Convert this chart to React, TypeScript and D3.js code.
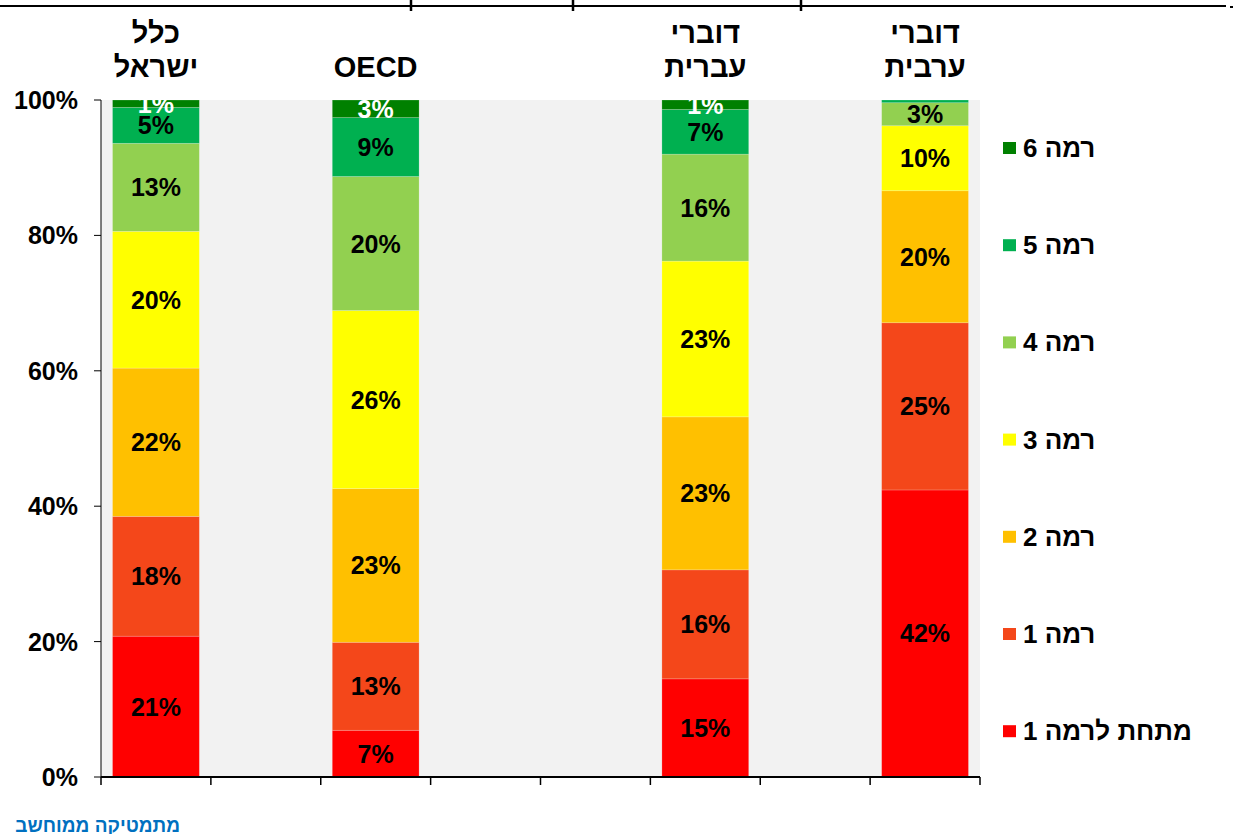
import React from "react";
import * as d3 from "d3";

// ---- data ----
const categories = ["israel", "gap1", "oecd", "gap2", "gap3", "hebrew", "gap4", "arabic"];
const categoryLabels: Record<string, string[]> = {
  israel: ["כלל", "ישראל"],
  oecd: ["OECD"],
  hebrew: ["דוברי", "עברית"],
  arabic: ["דוברי", "ערבית"],
};
const barCategories = ["israel", "oecd", "hebrew", "arabic"];
const levels = ["מתחת לרמה 1", "רמה 1", "רמה 2", "רמה 3", "רמה 4", "רמה 5", "רמה 6"];
const levelColors = ["#ff0000", "#f4471a", "#ffc000", "#ffff00", "#92d050", "#00b050", "#008000"];
const labelColors = ["#000", "#000", "#000", "#000", "#000", "#000", "#fff"];
const israelValues = [20.8, 17.7, 21.9, 20.2, 13.0, 5.3, 1.1];
const oecdValues = [6.9, 13.0, 22.7, 26.3, 19.8, 8.7, 2.6];
const hebrewValues = [14.5, 16.1, 22.6, 23.0, 15.8, 6.6, 1.4];
const arabicValues = [42.4, 24.7, 19.5, 9.6, 3.4, 0.4, 0.0];
const yTicks = [0, 20, 40, 60, 80, 100];
const footnote = "מתמטיקה ממוחשב";

const valuesByCategory: Record<string, number[]> = {
  israel: israelValues,
  oecd: oecdValues,
  hebrew: hebrewValues,
  arabic: arabicValues,
};

const W = 1235;
const H = 834;
const plot = { left: 101, right: 980, top: 100, bottom: 777 };
const FONT = "'Liberation Sans', Arial, sans-serif";

export default function App() {
  const x = d3
    .scaleBand<string>()
    .domain(categories)
    .range([plot.left, plot.right])
    .paddingInner(0.21)
    .paddingOuter(0.105);
  const y = d3.scaleLinear().domain([0, 100]).range([plot.bottom, plot.top]);
  const step = x.step();
  const bw = x.bandwidth();

  const rows = barCategories.map((c) => {
    const r: any = { cat: c };
    levels.forEach((l, i) => (r[l] = valuesByCategory[c][i]));
    return r;
  });
  const series = d3.stack<any>().keys(levels)(rows);

  const legendYs = d3.range(levels.length).map((i) => 148 + (levels.length - 1 - i) * 97.2);

  return (
    <svg
      width={W}
      height={H}
      style={{ position: "absolute", left: 0, top: 0, background: "#fff" }}
      fontFamily={FONT}
    >
      <defs>
        <clipPath id="plotClip">
          <rect x={plot.left} y={plot.top} width={plot.right - plot.left} height={plot.bottom - plot.top} />
        </clipPath>
      </defs>

      {/* clipped title border remnants */}
      <line x1={0} x2={1226} y1={6} y2={6} stroke="#000" strokeWidth={2} />
      {[411, 573, 801].map((xx) => (
        <line key={xx} x1={xx} x2={xx} y1={0} y2={11} stroke="#000" strokeWidth={2.5} />
      ))}
      <line x1={1230} x2={1233} y1={7} y2={7} stroke="#000" strokeWidth={2} />

      {/* plot background */}
      <rect x={plot.left} y={plot.top} width={plot.right - plot.left} height={plot.bottom - plot.top} fill="#f2f2f2" />

      {/* bars */}
      {series.map((s, si) => (
        <g key={s.key} fill={levelColors[si]}>
          {s.map((d, di) => {
            const cat = barCategories[di];
            const h = y(d[0]) - y(d[1]);
            if (h <= 0) return null;
            return (
              <rect key={cat} x={x(cat)!} y={y(d[1])} width={bw} height={h} stroke="#ffffff" strokeOpacity={0.25} strokeWidth={0.75} />
            );
          })}
        </g>
      ))}

      {/* data labels */}
      <g clipPath="url(#plotClip)">
        {series.map((s, si) =>
          s.map((d, di) => {
            const cat = barCategories[di];
            const v = d[1] - d[0];
            if (v < 0.95) return null;
            return (
              <text
                key={s.key + cat}
                x={x(cat)! + bw / 2}
                y={(y(d[0]) + y(d[1])) / 2}
                textAnchor="middle"
                dominantBaseline="central"
                fontSize={25}
                fontWeight="bold"
                fill={labelColors[si]}
              >
                {Math.round(v) + "%"}
              </text>
            );
          })
        )}
      </g>

      {/* y axis */}
      <line x1={plot.left} x2={plot.left} y1={plot.top} y2={plot.bottom} stroke="#000" strokeWidth={1} />
      {yTicks.map((t) => (
        <g key={t}>
          <line x1={plot.left - 7} x2={plot.left} y1={y(t)} y2={y(t)} stroke="#000" strokeWidth={1} />
          <text x={78} y={y(t)} textAnchor="end" dominantBaseline="central" fontSize={25} fontWeight="bold" fill="#000">
            {t + "%"}
          </text>
        </g>
      ))}

      {/* x axis */}
      <line x1={plot.left} x2={plot.right} y1={plot.bottom} y2={plot.bottom} stroke="#000" strokeWidth={2} />
      {d3.range(categories.length + 1).map((i) => {
        const xx = plot.left + i * step;
        return <line key={i} x1={xx} x2={xx} y1={plot.bottom} y2={plot.bottom + 8} stroke="#000" strokeWidth={1.5} />;
      })}

      {/* category labels on top */}
      {barCategories.map((c) => {
        const lines = categoryLabels[c];
        const cx = x(c)! + bw / 2;
        return lines.map((ln, li) => (
          <text
            key={c + li}
            x={cx}
            y={67 - (lines.length - 1 - li) * 34}
            textAnchor="middle"
            dominantBaseline="central"
            fontSize={29}
            fontWeight="bold"
            fill="#000"
            direction="rtl"
          >
            {ln}
          </text>
        ));
      })}

      {/* legend */}
      {levels.map((l, i) => (
        <g key={l}>
          <rect x={1003} y={legendYs[i] - 6} width={13} height={12} fill={levelColors[i]} />
          <text
            x={1023}
            y={legendYs[i]}
            direction="rtl"
            textAnchor="end"
            dominantBaseline="central"
            fontSize={26}
            fontWeight="bold"
            fill="#000"
          >
            {l}
          </text>
        </g>
      ))}

      {/* footnote */}
      <text x={180} y={825} direction="rtl" textAnchor="start" dominantBaseline="central" fontSize={19} fontWeight="bold" fill="#0070c0">
        {footnote}
      </text>
    </svg>
  );
}
